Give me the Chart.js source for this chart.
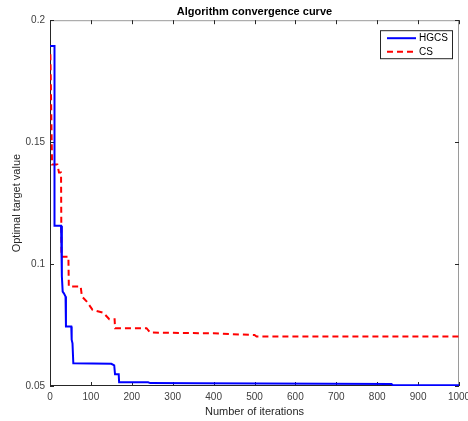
<!DOCTYPE html>
<html>
<head>
<meta charset="utf-8">
<script src="https://cdn.jsdelivr.net/npm/chart.js@4"></script>
<style>
  body { margin: 0; background: #fff; }
  canvas { display: block; }
</style>
</head>
<body>
<canvas id="conv-chart" width="468" height="421"></canvas>
<script>
// iteration / best-value pairs (breakpoints of the curves)
var hgcs_iter = [0, 11, 11, 27, 29, 31, 34, 38, 39, 52, 53, 55, 57, 150, 157, 159, 168, 169, 240, 245, 360, 835, 838, 1000];
var hgcs_val  = [0.1894, 0.1894, 0.1157, 0.1157, 0.095, 0.0887, 0.088, 0.0867, 0.0744, 0.0744, 0.069, 0.0675, 0.0593, 0.0591, 0.0585, 0.0548, 0.0548, 0.0515, 0.0515, 0.0512, 0.0511, 0.0508, 0.0503, 0.0503];

var cs_iter = [1, 5, 18, 22, 27, 28, 45, 46, 75, 78, 90, 104, 130, 145, 158, 159, 236, 245, 400, 500, 505, 1000];
var cs_val  = [0.186, 0.1408, 0.1408, 0.1375, 0.1375, 0.103, 0.103, 0.0908, 0.0908, 0.0867, 0.0846, 0.0812, 0.0801, 0.0774, 0.0774, 0.0737, 0.0737, 0.0719, 0.0716, 0.0709, 0.0703, 0.0703];

var x_ticks = [0, 100, 200, 300, 400, 500, 600, 700, 800, 900, 1000];
var y_ticks = [0.05, 0.1, 0.15, 0.2];
var y_tick_labels = ["0.05", "0.1", "0.15", "0.2"];

function toPoints(xs, ys) {
  return xs.map(function (x, i) { return { x: x, y: ys[i] }; });
}

var fontFamily = "'Liberation Sans', Arial, Helvetica, sans-serif";

// MATLAB style box with inward ticks
var axesBox = {
  id: 'axesBox',
  beforeDatasetsDraw: function (chart) {
    var ctx = chart.ctx, a = chart.chartArea;
    var xs = chart.scales.x, ys = chart.scales.y;
    var tl = 4;
    ctx.save();
    ctx.lineWidth = 1;
    // top and right in light grey
    ctx.strokeStyle = '#9a9a9a';
    ctx.beginPath();
    ctx.moveTo(a.left, a.top + 0.5); ctx.lineTo(a.right, a.top + 0.5);
    ctx.moveTo(a.right - 0.5, a.top); ctx.lineTo(a.right - 0.5, a.bottom);
    ctx.stroke();
    // left and bottom darker
    ctx.strokeStyle = '#262626';
    ctx.beginPath();
    ctx.moveTo(a.left + 0.5, a.top); ctx.lineTo(a.left + 0.5, a.bottom);
    ctx.moveTo(a.left, a.bottom - 0.5); ctx.lineTo(a.right, a.bottom - 0.5);
    ctx.stroke();
    ctx.beginPath();
    x_ticks.forEach(function (v) {
      var px = Math.round(xs.getPixelForValue(v)) + 0.5;
      ctx.moveTo(px, a.bottom); ctx.lineTo(px, a.bottom - tl);
      ctx.moveTo(px, a.top); ctx.lineTo(px, a.top + tl);
    });
    y_ticks.forEach(function (v) {
      var py = Math.round(ys.getPixelForValue(v)) + 0.5;
      ctx.moveTo(a.left, py); ctx.lineTo(a.left + tl, py);
      ctx.moveTo(a.right, py); ctx.lineTo(a.right - tl, py);
    });
    ctx.stroke();
    ctx.restore();
  }
};

// boxed legend in the top right corner
var boxLegend = {
  id: 'boxLegend',
  afterDraw: function (chart) {
    var ctx = chart.ctx, a = chart.chartArea;
    var w = 72, h = 28;
    var left = a.right - 7 - w, top = a.top + 10;
    ctx.save();
    ctx.fillStyle = '#fff';
    ctx.fillRect(left, top, w, h);
    ctx.strokeStyle = '#262626';
    ctx.lineWidth = 1;
    ctx.strokeRect(left + 0.5, top + 0.5, w, h);
    ctx.font = '10px ' + fontFamily;
    ctx.textBaseline = 'middle';
    chart.data.datasets.forEach(function (ds, i) {
      var y = top + 8 + i * 13.5;
      ctx.strokeStyle = ds.borderColor;
      ctx.lineWidth = 2;
      ctx.setLineDash(ds.borderDash || []);
      ctx.beginPath();
      ctx.moveTo(left + 7, y); ctx.lineTo(left + 36, y);
      ctx.stroke();
      ctx.setLineDash([]);
      ctx.fillStyle = '#000';
      ctx.fillText(ds.label, left + 39, y + 0.5);
    });
    ctx.restore();
  }
};

new Chart("conv-chart", {
  type: "line",
  data: {
    datasets: [{
      label: "HGCS",
      data: toPoints(hgcs_iter, hgcs_val),
      borderColor: "#0000ff",
      borderWidth: 2,
      pointRadius: 0,
      tension: 0
    }, {
      label: "CS",
      data: toPoints(cs_iter, cs_val),
      borderColor: "#ff0000",
      borderWidth: 2,
      borderDash: [6, 4],
      pointRadius: 0,
      tension: 0
    }]
  },
  options: {
    responsive: false,
    animation: false,
    layout: { padding: { left: 0, right: 9, top: 0, bottom: 0 } },
    plugins: {
      legend: { display: false },
      tooltip: { enabled: false },
      title: {
        display: true,
        text: "Algorithm convergence curve",
        fullSize: false,
        color: '#000',
        font: { family: fontFamily, size: 11, weight: 'bold' },
        padding: { top: 5, bottom: 2 }
      }
    },
    scales: {
      x: {
        type: 'linear',
        min: 0,
        max: 1000,
        afterBuildTicks: function (s) { s.ticks = x_ticks.map(function (v) { return { value: v }; }); },
        afterFit: function (s) { s.height = 35; s.paddingLeft = 0; s.paddingRight = 0; },
        grid: { display: false, drawTicks: false },
        border: { display: false },
        ticks: {
          color: '#404040',
          padding: 5,
          maxRotation: 0,
          font: { family: fontFamily, size: 10 },
          callback: function (v) { return String(v); }
        },
        title: {
          display: true,
          text: "Number of iterations",
          color: '#262626',
          font: { family: fontFamily, size: 11 },
          padding: { top: 0, bottom: 2 }
        }
      },
      y: {
        type: 'linear',
        min: 0.05,
        max: 0.2,
        afterBuildTicks: function (s) { s.ticks = y_ticks.map(function (v) { return { value: v }; }); },
        afterFit: function (s) { s.width = 50; },
        grid: { display: false, drawTicks: false },
        border: { display: false },
        ticks: {
          color: '#404040',
          padding: 5,
          font: { family: fontFamily, size: 10 },
          callback: function (v) {
            var i = y_ticks.indexOf(v);
            return i >= 0 ? y_tick_labels[i] : v;
          }
        },
        title: {
          display: true,
          text: "Optimal target value",
          color: '#262626',
          font: { family: fontFamily, size: 11 },
          padding: { top: 10, bottom: 0 }
        }
      }
    }
  },
  plugins: [axesBox, boxLegend]
});
</script>
</body>
</html>
